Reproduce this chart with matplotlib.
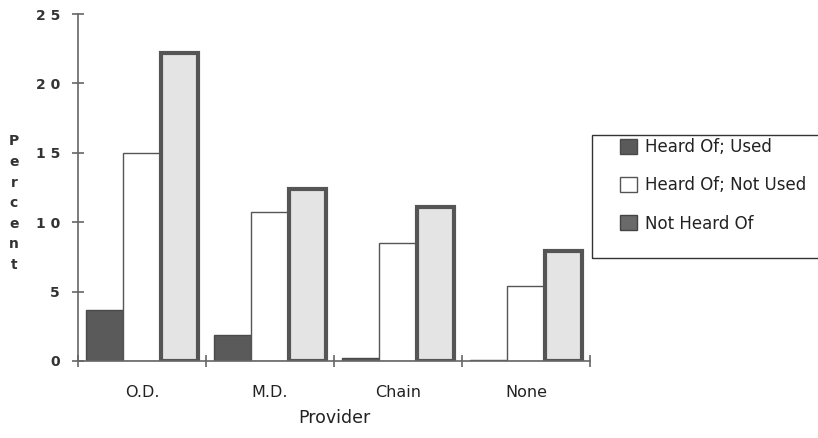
import numpy as np
import matplotlib.pyplot as plt
from matplotlib.patches import Rectangle

plt.rcParams['font.family'] = ['DejaVu Sans']

# Percent of respondents by provider type
providers = ['O.D.', 'M.D.', 'Chain', 'None']
heard_used = [3.7, 1.9, 0.2, 0.1]
heard_not_used = [15.0, 10.7, 8.5, 5.4]
not_heard = [22.2, 12.4, 11.1, 7.9]
series_names = ['Heard Of; Used', 'Heard Of; Not Used', 'Not Heard Of']

fig = plt.figure(figsize=(8.18, 4.38), dpi=100)
ax = fig.add_axes([0.0954, 0.1758, 0.6259, 0.7922])

x = np.arange(len(providers))
w = 0.29
b1 = ax.bar(x - w, heard_used, w, color='#5a5a5a', edgecolor='#4a4a4a', linewidth=1)
b2 = ax.bar(x, heard_not_used, w, color='white', edgecolor='#555555', linewidth=1)
b3 = ax.bar(x + w, not_heard, w, color='#e4e4e4', edgecolor='#555555', linewidth=3.0)

ax.set_xlim(-0.5, len(providers) - 0.5)
ax.set_ylim(0, 25)

for side in ['top', 'right']:
    ax.spines[side].set_visible(False)
for side in ['left', 'bottom']:
    ax.spines[side].set_color('#666666')
    ax.spines[side].set_linewidth(1.2)

ax.set_yticks([0, 5, 10, 15, 20, 25])
ax.set_yticklabels(['0', '5', '1 0', '1 5', '2 0', '2 5'], fontsize=10, fontweight='bold', color='#333333')
ax.tick_params(axis='y', direction='inout', length=8, width=1.2, color='#666666', pad=9)

ax.set_xticks(x)
ax.set_xticklabels(providers, fontsize=11.5, color='#222222')
ax.tick_params(axis='x', which='major', length=0, pad=17)
ax.set_xticks(np.arange(len(providers) + 1) - 0.5, minor=True)
ax.tick_params(axis='x', which='minor', direction='inout', length=8, width=1.2, color='#666666')

ax.set_xlabel('Provider', fontsize=12.5, color='#222222', labelpad=7)
fig.text(0.017, 0.536, '\n'.join('Percent'), fontsize=10, fontweight='bold',
         color='#333333', ha='center', va='center', linespacing=1.6)

# legend entries without frame, boxed separately so the box runs off the right edge
leg = fig.legend([b1, b2, b3], series_names, loc='upper left',
                 bbox_to_anchor=(620 / 818, 1 - 138 / 438), frameon=False, fontsize=12,
                 handlelength=1.0, handleheight=1.0, labelspacing=1.22,
                 borderpad=0, borderaxespad=0, handletextpad=0.5)
for h in leg.legend_handles:
    h.set_linewidth(1)
leg.legend_handles[2].set_facecolor('#6a6a6a')
leg.legend_handles[2].set_edgecolor('#444444')
for t in leg.get_texts():
    t.set_color('#222222')

fig.patches.append(Rectangle((592 / 818, 1 - 258 / 438), (830 - 592) / 818, 123 / 438,
                             transform=fig.transFigure, fill=False, edgecolor='#333333',
                             linewidth=1, clip_on=False))

fig.savefig('out.png', dpi=100)
